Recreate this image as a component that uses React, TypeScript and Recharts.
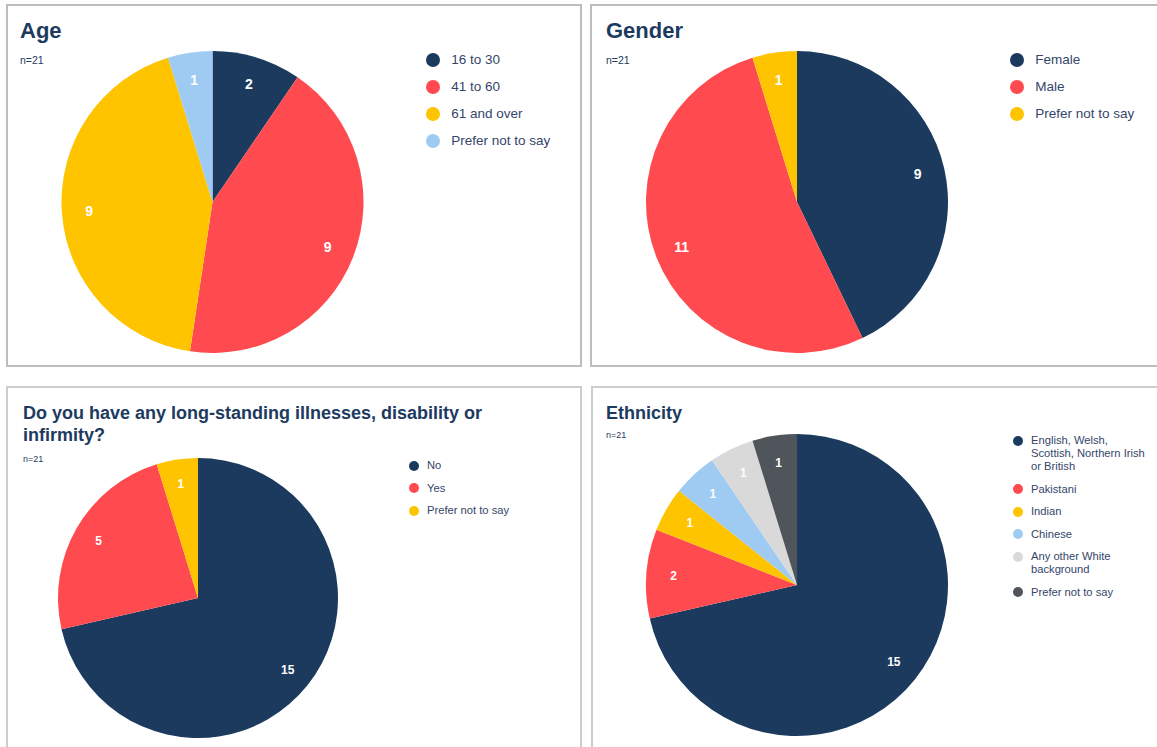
import React from "react";
import { PieChart, Pie, Cell } from "recharts";

// Age
const ageLabels = ["16 to 30", "41 to 60", "61 and over", "Prefer not to say"];
const ageValues = [2, 9, 9, 1];
const ageColors = ["#1b3a5e", "#ff4a4f", "#ffc400", "#9fcbf2"];

// Gender
const genderLabels = ["Female", "Male", "Prefer not to say"];
const genderValues = [9, 11, 1];
const genderColors = ["#1b3a5e", "#ff4a4f", "#ffc400"];

// Illness
const illnessLabels = ["No", "Yes", "Prefer not to say"];
const illnessValues = [15, 5, 1];
const illnessColors = ["#1b3a5e", "#ff4a4f", "#ffc400"];

// Ethnicity
const ethnicityLabels = [
  "English, Welsh, Scottish, Northern Irish or British",
  "Pakistani",
  "Indian",
  "Chinese",
  "Any other White background",
  "Prefer not to say",
];
const ethnicityValues = [15, 2, 1, 1, 1, 1];
const ethnicityColors = ["#1b3a5e", "#ff4a4f", "#ffc400", "#9fcbf2", "#d9d9d9", "#50545b"];

const FONT = '"Liberation Sans", Arial, sans-serif';
const TITLE = "#1d3a5f";
const TEXT = "#34466a";
const RAD = Math.PI / 180;

const toRows = (labels: string[], values: number[]) =>
  labels.map((name, i) => ({ name, value: values[i] }));

function makeLabel(ratio: number, fontSize: number) {
  return (props: any) => {
    const { cx, cy, midAngle, outerRadius, value } = props;
    const r = outerRadius * ratio;
    const x = cx + r * Math.cos(-midAngle * RAD);
    const y = cy + r * Math.sin(-midAngle * RAD);
    return (
      <text
        x={x}
        y={y}
        fill="#fff"
        textAnchor="middle"
        dominantBaseline="central"
        fontFamily={FONT}
        fontWeight="bold"
        fontSize={fontSize}
      >
        {value}
      </text>
    );
  };
}

interface PanelProps {
  left: number;
  top: number;
  width: number;
  height: number;
  border: string;
  title: string;
  titleSize: number;
  titleTop: number;
  titleLeft: number;
  nTop: number;
  nSize: number;
  labels: string[];
  values: number[];
  colors: string[];
  cx: number;
  cy: number;
  radius: number;
  labelSize: number;
  legend: { left: number; top: number; width: number; fontSize: number; dot: number; gap: number; lineHeight: number };
}

function Panel(p: PanelProps) {
  const rows = toRows(p.labels, p.values);
  return (
    <div
      style={{
        position: "absolute",
        left: p.left,
        top: p.top,
        width: p.width,
        height: p.height,
        border: `2px solid ${p.border}`,
        boxSizing: "border-box",
        background: "#fff",
      }}
    >
      <div
        style={{
          position: "absolute",
          left: p.titleLeft,
          top: p.titleTop,
          width: 520,
          fontSize: p.titleSize,
          fontWeight: "bold",
          color: TITLE,
          lineHeight: `${Math.round(p.titleSize * 1.2)}px`,
        }}
      >
        {p.title}
      </div>
      <div style={{ position: "absolute", left: p.titleLeft, top: p.nTop, fontSize: p.nSize, color: TITLE }}>
        n=21
      </div>
      <div style={{ position: "absolute", left: 0, top: 0 }}>
        <PieChart width={420} height={400} margin={{ top: 0, right: 0, bottom: 0, left: 0 }}>
          <Pie
            data={rows}
            dataKey="value"
            nameKey="name"
            cx={p.cx}
            cy={p.cy}
            outerRadius={p.radius}
            startAngle={90}
            endAngle={-270}
            stroke="none"
            labelLine={false}
            label={makeLabel(0.82, p.labelSize)}
            isAnimationActive={false}
          >
            {rows.map((r, i) => (
              <Cell key={r.name} fill={p.colors[i]} />
            ))}
          </Pie>
        </PieChart>
      </div>
      <div
        style={{
          position: "absolute",
          left: p.legend.left,
          top: p.legend.top,
          width: p.legend.width,
          display: "flex",
          flexDirection: "column",
          gap: p.legend.gap,
        }}
      >
        {rows.map((r, i) => (
          <div key={r.name} style={{ display: "flex", alignItems: "flex-start" }}>
            <span
              style={{
                flex: "none",
                width: p.legend.dot,
                height: p.legend.dot,
                borderRadius: "50%",
                background: p.colors[i],
                marginTop: (p.legend.lineHeight - p.legend.dot) / 2,
                marginRight: p.legend.dot * 0.8,
              }}
            />
            <span style={{ fontSize: p.legend.fontSize, lineHeight: `${p.legend.lineHeight}px`, color: TEXT }}>
              {r.name}
            </span>
          </div>
        ))}
      </div>
    </div>
  );
}

export default function App() {
  return (
    <div
      style={{
        position: "absolute",
        left: 0,
        top: 0,
        width: 1157,
        height: 747,
        overflow: "hidden",
        background: "#fff",
        fontFamily: FONT,
      }}
    >
      <Panel
        left={6}
        top={4}
        width={576}
        height={363}
        border="#bdbdbd"
        title="Age"
        titleSize={22}
        titleLeft={12}
        titleTop={12}
        nTop={48}
        nSize={10.5}
        labels={ageLabels}
        values={ageValues}
        colors={ageColors}
        cx={204.5}
        cy={196}
        radius={151}
        labelSize={14}
        legend={{ left: 418, top: 46, width: 150, fontSize: 13.5, dot: 14, gap: 11, lineHeight: 16 }}
      />
      <Panel
        left={590}
        top={4}
        width={590}
        height={363}
        border="#bdbdbd"
        title="Gender"
        titleSize={22}
        titleLeft={14}
        titleTop={12}
        nTop={48}
        nSize={10.5}
        labels={genderLabels}
        values={genderValues}
        colors={genderColors}
        cx={205}
        cy={196}
        radius={151}
        labelSize={14}
        legend={{ left: 418, top: 46, width: 150, fontSize: 13.5, dot: 14, gap: 11, lineHeight: 16 }}
      />
      <Panel
        left={6}
        top={386}
        width={576}
        height={400}
        border="#cccccc"
        title="Do you have any long-standing illnesses, disability or infirmity?"
        titleSize={18}
        titleLeft={15}
        titleTop={14}
        nTop={66}
        nSize={9}
        labels={illnessLabels}
        values={illnessValues}
        colors={illnessColors}
        cx={190}
        cy={210}
        radius={140}
        labelSize={12}
        legend={{ left: 401, top: 71, width: 150, fontSize: 11.2, dot: 10, gap: 9.5, lineHeight: 13 }}
      />
      <Panel
        left={591}
        top={386}
        width={590}
        height={400}
        border="#cccccc"
        title="Ethnicity"
        titleSize={18}
        titleLeft={13}
        titleTop={14}
        nTop={42}
        nSize={9}
        labels={ethnicityLabels}
        values={ethnicityValues}
        colors={ethnicityColors}
        cx={204}
        cy={197}
        radius={151}
        labelSize={12}
        legend={{ left: 420, top: 46, width: 138, fontSize: 11.2, dot: 10, gap: 9.5, lineHeight: 13 }}
      />
    </div>
  );
}
